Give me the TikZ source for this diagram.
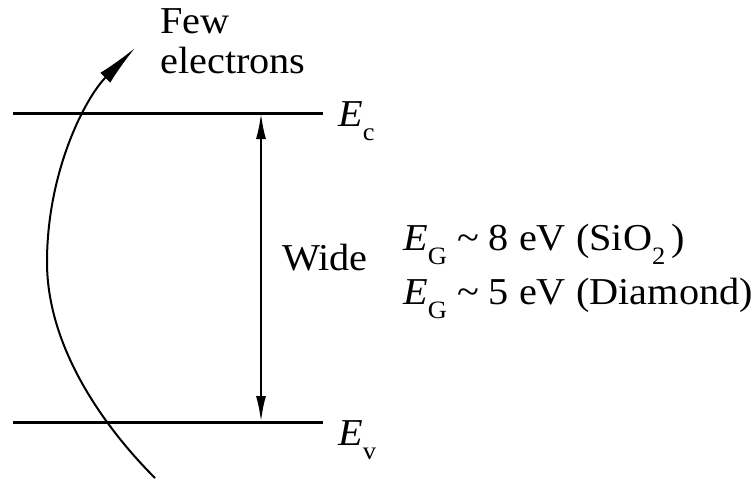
\documentclass[tikz,border=0pt]{standalone}
\usepackage{fontspec}
\setmainfont[FakeStretch=1.06]{Liberation Serif}
\usetikzlibrary{arrows.meta}
\newcommand\sbs[1]{\raisebox{-14pt}{\fontsize{25}{25}\selectfont #1}}
\newcommand\Esym{\textit{E}}
\begin{document}
\begin{tikzpicture}[x=1pt,y=-1pt,
  level/.style={line width=3pt},
  gaparrow/.style={line width=2.4pt,{Latex[length=26pt,width=10pt]}-{Latex[length=26pt,width=10pt]}},
  electronpath/.style={line width=2pt,-{Latex[length=42pt,width=14pt]}},
  lbl/.style={inner sep=0pt,font=\fontsize{38}{40}\selectfont}]
\useasboundingbox (0,0) rectangle (755,480);
% band edges
\coordinate (cl) at (13,113); \coordinate (cr) at (323,113);
\coordinate (vl) at (13,422); \coordinate (vr) at (323,422);
\draw[level] (cl) -- (cr);
\draw[level] (vl) -- (vr);
% gap arrow
\coordinate (gt) at (261,113); \coordinate (gb) at (261,422);
\draw[gaparrow] (gt) -- (gb);
% electron path
\coordinate (cs) at (155,478);
\coordinate (cm) at (47,262);
\coordinate (ce) at (135,48);
\draw[electronpath] (cs) .. controls (110,433) and (47,352) .. (cm)
  .. controls (47,172) and (85,98) .. (ce);
% labels
\node[lbl,anchor=north west,align=left] (few) at (160,8) {Few\\electrons};
\node[lbl,anchor=base west] (ec) at (338,126) {\Esym\sbs{c}};
\node[lbl,anchor=base west] (ev) at (338,445) {\Esym\sbs{v}};
\node[lbl,anchor=base west] (wide) at (282,270) {Wide};
\node[lbl,anchor=north west,align=left] (eg) at (403,224)
  {\Esym\sbs{G} \textasciitilde{} 8 eV (SiO\sbs{2}\,)\\[12pt]
   \Esym\sbs{G} \textasciitilde{} 5 eV (Diamond)};
\end{tikzpicture}
\end{document}
